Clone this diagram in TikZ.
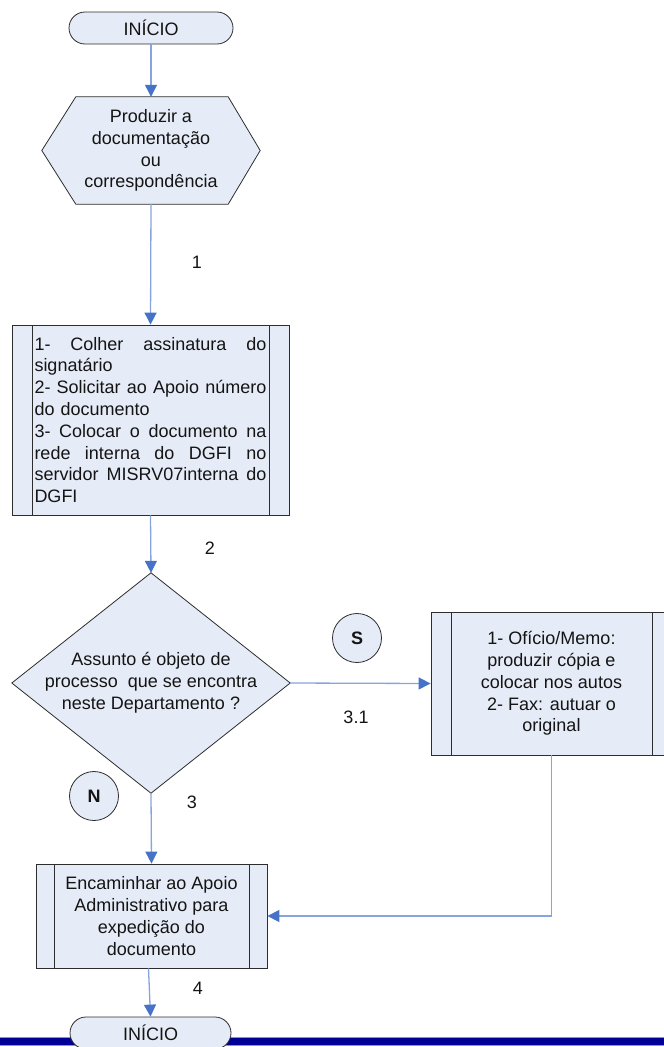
\documentclass[tikz,border=0pt]{standalone}
\usepackage{fontspec}
\setmainfont{Liberation Sans}
\usetikzlibrary{arrows.meta,calc,backgrounds}
\definecolor{boxfill}{RGB}{230,236,247}
\definecolor{boxline}{RGB}{45,45,45}
\definecolor{conn}{RGB}{135,165,220}
\definecolor{tipc}{RGB}{70,115,200}
\definecolor{barblue}{RGB}{0,0,150}
\definecolor{baredge}{RGB}{140,140,225}
\definecolor{txt}{RGB}{20,20,20}
\newcommand{\Jline}[1]{\leavevmode\hbox to 232pt{#1}}
\begin{document}
\begin{tikzpicture}[x=1pt,y=-1pt,
  every node/.style={font=\fontsize{18}{21.8}\selectfont, text=txt},
  term/.style={draw=boxline, fill=boxfill, rounded corners=16pt, minimum height=32pt, inner sep=0pt, line width=0.8pt},
  shapeline/.style={draw=boxline, fill=boxfill, line width=0.8pt},
  proc/.style={draw=boxline, fill=boxfill, inner sep=0pt, line width=0.8pt,
    path picture={\draw[boxline, line width=0.8pt]
      ([xshift=#1pt]path picture bounding box.north west) -- ([xshift=#1pt]path picture bounding box.south west)
      ([xshift=-#1pt]path picture bounding box.north east) -- ([xshift=-#1pt]path picture bounding box.south east);}},
  proc/.default=20,
  conncirc/.style={circle, draw=boxline, fill=boxfill, minimum size=49pt, inner sep=0pt, line width=0.8pt, font=\fontsize{18}{20}\selectfont\bfseries},
  arr/.style={draw=conn, line width=1.3pt, -{Triangle[width=12pt,length=12pt,color=tipc]}},
  lbl/.style={inner sep=0pt}
]
\useasboundingbox (0,0) rectangle (664,1047);
\clip (0,0) rectangle (664,1047);

% start terminal
\node[term, minimum width=164pt] (start) at (151,28) {INÍCIO};

% hexagon
\node[minimum width=218pt, minimum height=107pt, align=center, inner sep=0pt] (hex) at (151,150.5)
  {Produzir a\\documentação\\ou\\correspondência};
\begin{scope}[on background layer]
\draw[shapeline] (hex.west) -- ($(hex.north west)+(34,0)$) -- ($(hex.north east)+(-32,0)$) -- (hex.east)
  -- ($(hex.south east)+(-32,0)$) -- ($(hex.south west)+(34,0)$) -- cycle;
\end{scope}

% process 1
\node[proc, minimum width=277pt, minimum height=190pt, text width=232pt, align=left] (p1) at (150.5,420)
  {\Jline{1-\hfill Colher\hfill assinatura\hfill do}\\signatário\\\Jline{2-\hfill Solicitar\hfill ao\hfill Apoio\hfill número}\\do documento\\\Jline{3-\hfill Colocar\hfill o\hfill documento\hfill na}\\\Jline{rede\hfill interna\hfill do\hfill DGFI\hfill no}\\\Jline{servidor\hfill MISRV07interna\hfill do}\\DGFI};

% diamond
\node[minimum width=278pt, minimum height=220pt, align=center, inner sep=0pt] (dia) at (151,683)
  {Assunto é objeto de\\processo\ \ que se encontra\\neste Departamento ?};
\begin{scope}[on background layer]
\draw[shapeline] (dia.north) -- (dia.east) -- (dia.south) -- (dia.west) -- cycle;
\end{scope}

% connector circles
\node[conncirc] (S) at (357,638) {S};
\node[conncirc] (N) at (94,796) {N};

% process 2 (right)
\node[proc, minimum width=241pt, minimum height=143pt, align=center] (p2) at (551.5,683.5)
  {1- Ofício/Memo:\\produzir cópia e\\colocar nos autos\\2- Fax: autuar o\\original};

% process 3
\node[proc=18, minimum width=231pt, minimum height=104pt, align=center] (p3) at (151.5,916)
  {Encaminhar ao Apoio\\Administrativo para\\expedição do\\documento};

% bottom bar
\fill[baredge] (0,1037) rectangle (664,1046);
\fill[barblue] (0,1038) rectangle (664,1045);

% end terminal
\node[term, minimum width=161pt] (end) at (150.5,1033) {INÍCIO};

% connectors
\draw[arr] (start.south) -- (hex.north);
\draw[arr] (hex.south) -- (p1.north);
\draw[arr] (p1.south) -- (dia.north);
\draw[arr] (dia.east) -- (p2.west);
\draw[arr] (dia.south) -- (p3.north);
\draw[arr] (p2.south) |- (p3.east);
\draw[arr] ([xshift=-3pt]p3.south) -- (end.north);

% labels
\node[lbl] (l1) at (197,262) {1};
\node[lbl] (l2) at (210,548) {2};
\node[lbl] (l31) at (356,717) {3.1};
\node[lbl] (l3) at (192,802) {3};
\node[lbl] (l4) at (198,988) {4};
\end{tikzpicture}
\end{document}
